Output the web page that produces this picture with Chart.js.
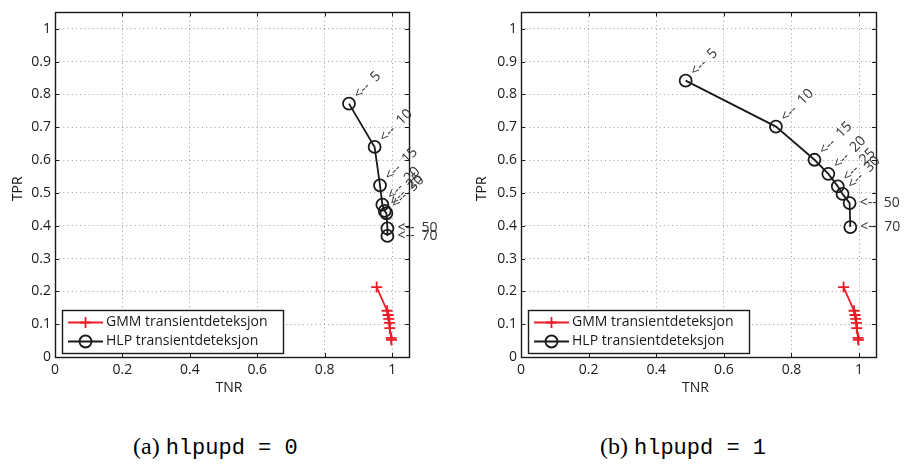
<!DOCTYPE html>
<html>
<head>
<meta charset="utf-8">
<script src="https://cdn.jsdelivr.net/npm/chart.js@4/dist/chart.umd.min.js"></script>
<style>
  body { margin: 0; background: #fff; width: 906px; height: 465px; position: relative; overflow: hidden; }
  canvas { position: absolute; top: 0; }
  #plotA { left: 0; }
  #plotB { left: 453px; }
  .cap { position: absolute; top: 432px; font: 24px "Liberation Serif", "DejaVu Serif", serif; color: #000; white-space: pre; line-height: 28px; }
  .cap code { font: 22px "Liberation Mono", "DejaVu Sans Mono", monospace; }
</style>
</head>
<body>
<canvas id="plotA" width="453" height="400"></canvas>
<canvas id="plotB" width="453" height="400"></canvas>
<div class="cap" style="left:133px">(a) <code>hlpupd = 0</code></div>
<div class="cap" style="left:600px">(b) <code>hlpupd = 1</code></div>

<script>
// Detection thresholds that label each operating point
const thresholds = ['5', '10', '15', '20', '25', '30', '50', '70'];

// GMM transient detection (same in both panels)
const gmmTNR = [0.954, 0.985, 0.988, 0.990, 0.992, 0.993, 0.997, 0.998];
const gmmTPR = [0.213, 0.141, 0.128, 0.116, 0.104, 0.088, 0.058, 0.052];

// HLP transient detection, hlpupd = 0
const hlpTNR0 = [0.872, 0.948, 0.964, 0.971, 0.978, 0.983, 0.986, 0.986];
const hlpTPR0 = [0.772, 0.640, 0.523, 0.464, 0.445, 0.438, 0.392, 0.369];

// HLP transient detection, hlpupd = 1
const hlpTNR1 = [0.487, 0.754, 0.868, 0.909, 0.937, 0.951, 0.972, 0.974];
const hlpTPR1 = [0.842, 0.702, 0.601, 0.558, 0.520, 0.497, 0.469, 0.396];

// Axis tick values
const xTickValues = [0, 0.2, 0.4, 0.6, 0.8, 1];
const yTickValues = [0, 0.1, 0.2, 0.3, 0.4, 0.5, 0.6, 0.7, 0.8, 0.9, 1];

const RED = '#ec1c24';
const INK = '#1a1a1a';
const FONT = '"Open Sans", "DejaVu Sans", sans-serif';

const toPoints = (xs, ys) => xs.map((x, i) => ({ x, y: ys[i] }));
const fmt = v => String(Math.round(v * 10) / 10);

function drawMarker(ctx, style, x, y, r, color) {
  ctx.save();
  ctx.strokeStyle = color;
  ctx.lineWidth = 1.8;
  ctx.beginPath();
  if (style === 'cross') {
    ctx.moveTo(x - r, y); ctx.lineTo(x + r, y);
    ctx.moveTo(x, y - r); ctx.lineTo(x, y + r);
  } else {
    ctx.arc(x, y, r, 0, Math.PI * 2);
  }
  ctx.stroke();
  ctx.restore();
}

// Box, inward ticks, point annotations, legend and axis titles
const decor = {
  id: 'decor',
  afterDatasetsDraw(chart, args, opts) {
    const { ctx, chartArea: a, scales: { x: xs, y: ys } } = chart;
    ctx.save();

    // inward tick marks on all four sides
    ctx.strokeStyle = INK;
    ctx.lineWidth = 1;
    const tl = 4;
    ctx.beginPath();
    xTickValues.forEach(v => {
      const px = Math.round(xs.getPixelForValue(v)) + 0.5;
      ctx.moveTo(px, a.bottom); ctx.lineTo(px, a.bottom - tl);
      ctx.moveTo(px, a.top); ctx.lineTo(px, a.top + tl);
    });
    yTickValues.forEach(v => {
      const py = Math.round(ys.getPixelForValue(v)) + 0.5;
      ctx.moveTo(a.left, py); ctx.lineTo(a.left + tl, py);
      ctx.moveTo(a.right, py); ctx.lineTo(a.right - tl, py);
    });
    ctx.stroke();

    // axes box
    ctx.lineWidth = 1.4;
    ctx.strokeRect(Math.round(a.left) + 0.5, Math.round(a.top) + 0.5,
                   Math.round(a.right - a.left), Math.round(a.bottom - a.top));

    // threshold annotations next to HLP points
    const hlp = chart.data.datasets[1].data;
    ctx.font = '14px ' + FONT;
    ctx.fillStyle = '#333';
    ctx.textBaseline = 'middle';
    ctx.textAlign = 'left';
    const arrow = '<--';
    const aw = ctx.measureText(arrow).width;
    hlp.forEach((p, i) => {
      const px = xs.getPixelForValue(p.x);
      const py = ys.getPixelForValue(p.y);
      const label = thresholds[i];
      ctx.save();
      ctx.translate(px, py);
      if (Number(label) < 50) ctx.rotate(-Math.PI / 4);
      ctx.fillText(arrow, 10, 0);
      ctx.fillText(label, 10 + aw + 7, 0);
      ctx.restore();
    });

    // legend
    const lx = a.left + 7, lw = 221, lh = 43;
    const ly = a.bottom - 4 - lh;
    ctx.fillStyle = '#fff';
    ctx.fillRect(lx, ly, lw, lh);
    ctx.strokeStyle = INK;
    ctx.lineWidth = 1.4;
    ctx.strokeRect(Math.round(lx) + 0.5, Math.round(ly) + 0.5, lw, lh);
    chart.data.datasets.forEach((ds, i) => {
      const ry = Math.round(ly + 12 + i * 19) + 0.5;
      ctx.strokeStyle = ds.borderColor;
      ctx.lineWidth = 1.8;
      ctx.beginPath();
      ctx.moveTo(lx + 6, ry); ctx.lineTo(lx + 41, ry);
      ctx.stroke();
      drawMarker(ctx, ds.pointStyle, lx + 23.5, ry, ds.pointRadius, ds.borderColor);
      ctx.fillStyle = INK;
      ctx.font = '14px ' + FONT;
      ctx.textAlign = 'left';
      ctx.textBaseline = 'middle';
      ctx.fillText(ds.label, lx + 44, ry);
    });

    // axis titles
    ctx.fillStyle = INK;
    ctx.font = '14px ' + FONT;
    ctx.textAlign = 'center';
    ctx.textBaseline = 'middle';
    ctx.fillText('TNR', (a.left + a.right) / 2 - 3, 388);
    ctx.save();
    ctx.translate(opts.yTitleX, (a.top + a.bottom) / 2 + 4);
    ctx.rotate(-Math.PI / 2);
    ctx.fillText('TPR', 0, 0);
    ctx.restore();

    ctx.restore();
  }
};

function makePlot(canvasId, hlpX, hlpY, geom) {
  const grid = {
    color: '#9a9a9a',
    lineWidth: 1,
    drawTicks: false
  };
  return new Chart(document.getElementById(canvasId), {
    type: 'line',
    data: {
      datasets: [
        {
          label: 'GMM transientdeteksjon',
          data: toPoints(gmmTNR, gmmTPR),
          borderColor: RED,
          backgroundColor: RED,
          borderWidth: 1.8,
          pointStyle: 'cross',
          pointRadius: 5.5,
          pointBorderWidth: 1.8,
          pointBorderColor: RED,
          tension: 0,
          fill: false
        },
        {
          label: 'HLP transientdeteksjon',
          data: toPoints(hlpX, hlpY),
          borderColor: INK,
          backgroundColor: 'rgba(0,0,0,0)',
          borderWidth: 1.8,
          pointStyle: 'circle',
          pointRadius: 6,
          pointBorderWidth: 1.8,
          pointBorderColor: INK,
          pointBackgroundColor: 'rgba(0,0,0,0)',
          tension: 0,
          fill: false
        }
      ]
    },
    options: {
      responsive: false,
      animation: false,
      devicePixelRatio: 1,
      layout: { padding: { left: 0, right: geom.padRight, top: 5, bottom: 0 } },
      plugins: {
        legend: { display: false },
        tooltip: { enabled: false },
        decor: { yTitleX: geom.yTitleX }
      },
      scales: {
        x: {
          type: 'linear',
          min: 0, max: 1.05,
          afterBuildTicks: s => { s.ticks = xTickValues.map(v => ({ value: v })); },
          afterFit: s => { s.height = 43; },
          grid: grid,
          border: { display: false, dash: [1, 3.2] },
          ticks: {
            callback: v => fmt(v),
            color: INK,
            font: { family: FONT, size: 14 },
            padding: 5,
            maxRotation: 0,
            autoSkip: false
          }
        },
        y: {
          type: 'linear',
          min: 0, max: 1.05,
          afterBuildTicks: s => { s.ticks = yTickValues.map(v => ({ value: v })); },
          afterFit: s => { s.width = geom.yAxisW; },
          grid: grid,
          border: { display: false, dash: [1, 3.2] },
          ticks: {
            callback: v => fmt(v),
            color: INK,
            font: { family: FONT, size: 14 },
            padding: 4,
            autoSkip: false
          }
        }
      }
    },
    plugins: [decor]
  });
}

makePlot('plotA', hlpTNR0, hlpTPR0, { yAxisW: 55, padRight: 44, yTitleX: 18 });
makePlot('plotB', hlpTNR1, hlpTPR1, { yAxisW: 68, padRight: 30, yTitleX: 29 });
</script>
</body>
</html>
